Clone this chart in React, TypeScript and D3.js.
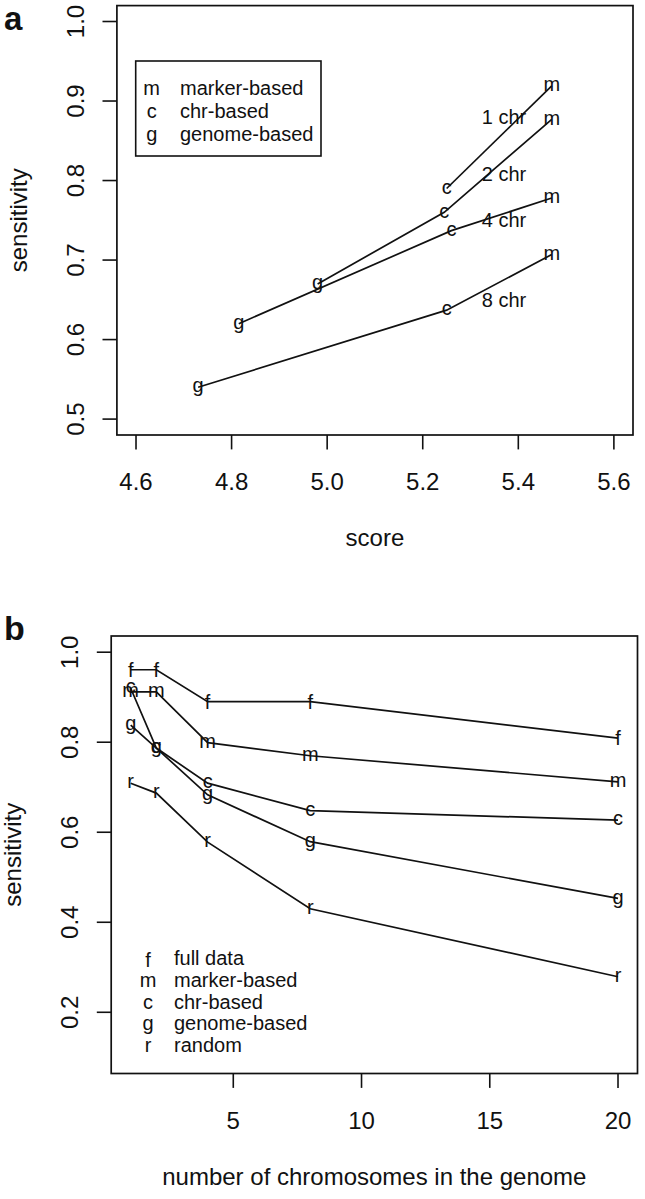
import React from "react";
import * as d3 from "d3";

// ---------- Panel a data ----------
const chrGroups = ["1 chr", "2 chr", "4 chr", "8 chr"];
const scoreLetters = [["c", "m"], ["g", "c", "m"], ["g", "c", "m"], ["g", "c", "m"]];
const scoreValues = [[5.25, 5.47], [4.98, 5.245, 5.47], [4.815, 5.26, 5.47], [4.73, 5.25, 5.47]];
const sensitivityA = [[0.79, 0.919], [0.67, 0.76, 0.877], [0.62, 0.737, 0.778], [0.54, 0.637, 0.707]];
const chrLabelScore = [5.37, 5.37, 5.37, 5.37];
const chrLabelSens = [0.88, 0.809, 0.751, 0.65];
const scoreTicks = [4.6, 4.8, 5.0, 5.2, 5.4, 5.6];
const sensTicksA = [0.5, 0.6, 0.7, 0.8, 0.9, 1.0];
const legendALetters = ["m", "c", "g"];
const legendANames = ["marker-based", "chr-based", "genome-based"];

// ---------- Panel b data ----------
const chromosomes = [1, 2, 4, 8, 20];
const methodLetters = ["f", "m", "c", "g", "r"];
const methodNames = ["full data", "marker-based", "chr-based", "genome-based", "random"];
const fullData = [0.961, 0.961, 0.89, 0.89, 0.809];
const markerBased = [0.912, 0.912, 0.799, 0.77, 0.712];
const chrBased = [0.92, 0.787, 0.709, 0.648, 0.627];
const genomeBased = [0.838, 0.787, 0.683, 0.579, 0.453];
const randomSel = [0.709, 0.687, 0.578, 0.43, 0.279];
const chromTicks = [5, 10, 15, 20];
const sensTicksB = [0.2, 0.4, 0.6, 0.8, 1.0];

const FONT = "'Liberation Sans', Arial, Helvetica, sans-serif";
const AX = 24; // axis font size
const SM = 20; // in-plot font size
const LINE = 28.8;

const ext = (lo: number, hi: number): [number, number] => {
  const r = hi - lo;
  return [lo - 0.04 * r, hi + 0.04 * r];
};

// vertical ink-centre offsets (em) so a glyph body is centred on its point
const inkOff = (ch: string) => (ch === "f" ? 0.365 : 0.26);

function Letter({ x, y, ch, size = SM }: { x: number; y: number; ch: string; size?: number }) {
  return (
    <text x={x} y={y + inkOff(ch) * size} textAnchor="middle" fontSize={size} fontFamily={FONT} fill="#111">
      {ch}
    </text>
  );
}

function Frame({
  x, y, xTicks, yTicks, xFmt, yFmt, xlab, ylab,
}: {
  x: d3.ScaleLinear<number, number>;
  y: d3.ScaleLinear<number, number>;
  xTicks: number[]; yTicks: number[];
  xFmt: (v: number) => string; yFmt: (v: number) => string;
  xlab: string; ylab: string;
}) {
  const [x0, x1] = x.range();
  const [y0, y1] = y.range(); // y0 bottom, y1 top
  const tl = LINE * 0.5;
  const cx = (x0 + x1) / 2;
  const cy = (y0 + y1) / 2;
  return (
    <g fontFamily={FONT} fill="#111">
      <rect x={x0} y={y1} width={x1 - x0} height={y0 - y1} fill="none" stroke="#111" strokeWidth={1.7} />
      {xTicks.map((t) => (
        <g key={"xt" + t}>
          <line x1={x(t)} x2={x(t)} y1={y0} y2={y0 + tl} stroke="#111" strokeWidth={1.6} />
          <text x={x(t)} y={y0 + 55} textAnchor="middle" fontSize={AX}>{xFmt(t)}</text>
        </g>
      ))}
      {yTicks.map((t) => (
        <g key={"yt" + t}>
          <line x1={x0 - tl} x2={x0} y1={y(t)} y2={y(t)} stroke="#111" strokeWidth={1.6} />
          <text x={x0 - 33} y={y(t)} textAnchor="middle" fontSize={AX} transform={`rotate(-90 ${x0 - 33} ${y(t)})`}>
            {yFmt(t)}
          </text>
        </g>
      ))}
      <text x={cx} y={y0 + 111} textAnchor="middle" fontSize={AX}>{xlab}</text>
      <text x={x0 - 90} y={cy} textAnchor="middle" fontSize={AX} transform={`rotate(-90 ${x0 - 90} ${cy})`}>
        {ylab}
      </text>
    </g>
  );
}

export default function App() {
  // Panel a scales
  const xa = d3.scaleLinear().domain(ext(4.6, 5.6)).range([116.9, 633]);
  const ya = d3.scaleLinear().domain(ext(0.5, 1.0)).range([435, 5.6]);
  // Panel b scales
  const xb = d3.scaleLinear().domain(ext(1, 20)).range([111.2, 637.5]);
  const yb = d3.scaleLinear().domain(ext(0.1, 1.0)).range([1073.5, 636]);

  const lineA = d3.line<[number, number]>().x((d) => xa(d[0])).y((d) => ya(d[1]));
  const lineB = d3.line<[number, number]>().x((d) => xb(d[0])).y((d) => yb(d[1]));

  const seriesB = [fullData, markerBased, chrBased, genomeBased, randomSel];

  return (
    <svg
      width={645}
      height={1199}
      style={{ position: "absolute", left: 0, top: 0, background: "#fff" }}
      xmlns="http://www.w3.org/2000/svg"
    >
      <rect x={0} y={0} width={645} height={1199} fill="#fff" />
      {/* panel labels */}
      <text x={4} y={30} fontSize={33} fontWeight="bold" fontFamily={FONT} fill="#111">a</text>
      <text x={4} y={640} fontSize={34} fontWeight="bold" fontFamily={FONT} fill="#111">b</text>

      {/* ---------- Panel a ---------- */}
      <Frame
        x={xa} y={ya} xTicks={scoreTicks} yTicks={sensTicksA}
        xFmt={(v) => v.toFixed(1)} yFmt={(v) => v.toFixed(1)}
        xlab="score" ylab="sensitivity"
      />
      {chrGroups.map((grp, i) => {
        const pts = scoreValues[i].map((v, j) => [v, sensitivityA[i][j]] as [number, number]);
        return (
          <g key={grp}>
            <path d={lineA(pts) || ""} fill="none" stroke="#111" strokeWidth={1.7} />
            {pts.map((p, j) => (
              <Letter key={j} x={xa(p[0])} y={ya(p[1])} ch={scoreLetters[i][j]} />
            ))}
            <text
              x={xa(chrLabelScore[i])}
              y={ya(chrLabelSens[i]) + 0.36 * SM}
              textAnchor="middle" fontSize={SM} fontFamily={FONT} fill="#111"
            >
              {grp}
            </text>
          </g>
        );
      })}
      {/* legend a */}
      <rect x={135.7} y={61} width={185.3} height={95} fill="none" stroke="#111" strokeWidth={1.6} />
      {legendALetters.map((ch, i) => (
        <g key={"la" + ch}>
          <Letter x={151.7} y={89.5 + i * 23.3} ch={ch} />
          <text x={180} y={89.5 + i * 23.3 + 0.26 * SM} fontSize={SM} fontFamily={FONT} fill="#111">
            {legendANames[i]}
          </text>
        </g>
      ))}

      {/* ---------- Panel b ---------- */}
      <Frame
        x={xb} y={yb} xTicks={chromTicks} yTicks={sensTicksB}
        xFmt={(v) => String(v)} yFmt={(v) => v.toFixed(1)}
        xlab="number of chromosomes in the genome" ylab="sensitivity"
      />
      {seriesB.map((vals, i) => {
        const pts = chromosomes.map((c, j) => [c, vals[j]] as [number, number]);
        return (
          <g key={methodLetters[i]}>
            <path d={lineB(pts) || ""} fill="none" stroke="#111" strokeWidth={1.7} />
            {pts.map((p, j) => (
              <Letter key={j} x={xb(p[0])} y={yb(p[1])} ch={methodLetters[i]} />
            ))}
          </g>
        );
      })}
      {/* legend b */}
      {methodLetters.map((ch, i) => (
        <g key={"lb" + ch}>
          <Letter x={148} y={960 + i * 21.7} ch={ch} />
          <text x={174} y={960 + i * 21.7 + 0.26 * SM} fontSize={SM} fontFamily={FONT} fill="#111">
            {methodNames[i]}
          </text>
        </g>
      ))}
    </svg>
  );
}
